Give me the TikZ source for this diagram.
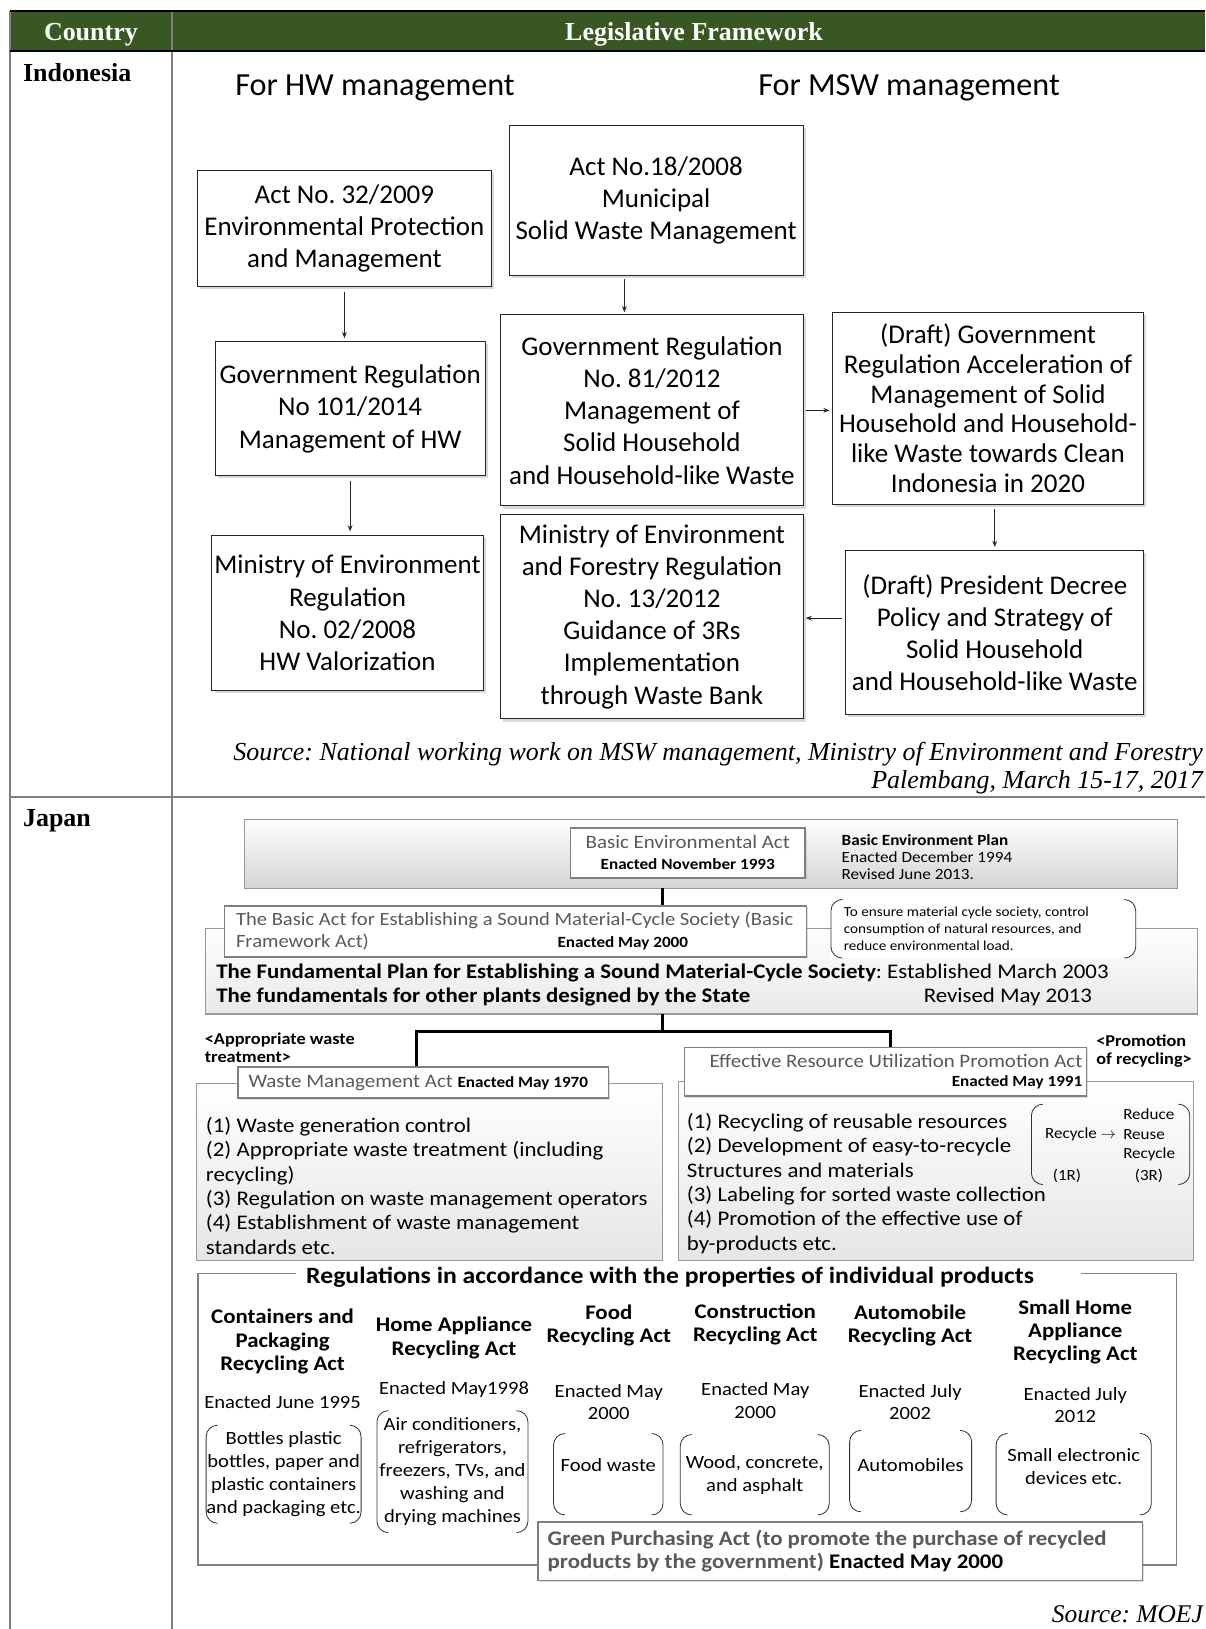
\documentclass[tikz,border=0pt]{standalone}
\usepackage{fontspec}
\setmainfont{Liberation Serif}
\newfontfamily\cf{Carlito}
\newfontfamily\cfw[FakeStretch=1.1]{Carlito}
\usetikzlibrary{arrows.meta,shadows}
\definecolor{hdr}{RGB}{56,87,35}
\definecolor{tgray}{RGB}{89,89,89}
\definecolor{lgray}{RGB}{128,128,128}
\newcommand{\fsz}[2]{\fontsize{#1}{#2}\selectfont}
\frenchspacing
% round brackets drawn on both sides of a named node
\newcommand{\brk}[1]{%
  \draw[paren] ([xshift=11pt]#1.north west) -- (#1.north west) -- (#1.south west) -- ([xshift=11pt]#1.south west);
  \draw[paren] ([xshift=-11pt]#1.north east) -- (#1.north east) -- (#1.south east) -- ([xshift=-11pt]#1.south east);}
\begin{document}
\begin{tikzpicture}[x=1pt,y=-1pt,
  ibox/.style={draw=black!85, line width=0.9pt, fill=white, align=center, inner sep=0pt,
    font=\cf\fsz{26}{31},
    drop shadow={shadow xshift=2.5pt,shadow yshift=-2.5pt,opacity=0.3}},
  arr/.style={-{Stealth[length=6pt,width=4.5pt]}, line width=0.8pt, black!85},
  jbox/.style={draw=lgray, line width=1.3pt, fill=white, inner sep=0pt,
    drop shadow={shadow xshift=1.5pt,shadow yshift=-1.5pt,opacity=0.25}},
  jband/.style={draw=lgray!80, line width=1pt, top color=white, bottom color=black!17, inner sep=0pt},
  cbox/.style={draw=lgray!80, line width=1pt, top color=white, bottom color=black!10, inner sep=0pt},
  trunk/.style={line width=2.4pt, black},
  paren/.style={draw=black!80, line width=0.8pt, rounded corners=11pt},
  jline/.style={draw=lgray, line width=1.4pt},
  txt/.style={font=\cfw\fsz{20}{23.4}, inner sep=0pt},
  small/.style={font=\cfw\fsz{15}{16.5}, inner sep=0pt},
  colh/.style={font=\cfw\bfseries\fsz{20}{22.5}, align=center, inner sep=0pt},
  prod/.style={font=\cfw\fsz{18}{22}, align=center, inner sep=0pt},
  hcell/.style={font=\bfseries\fsz{25}{28}, inner sep=0pt}
]
\useasboundingbox (0,0) rectangle (1160,1568);

% ---- table frame ----
\fill[hdr] (10,11) rectangle (1160,49);
\draw[lgray, line width=1.8pt] (10,11) -- (10,1568);
\draw[lgray, line width=1.8pt] (165.5,11) -- (165.5,1568);
\draw[lgray, line width=1.8pt] (10,767) -- (1160,767);
\draw[line width=2pt] (10,11) -- (1160,11);
\draw[line width=2pt] (10,49) -- (1160,49);

\node[hcell, text=white] (hc) at (87.5,33.5) {Country};
\node[hcell, text=white] (hl) at (668,33.5) {Legislative Framework};
\node[hcell, anchor=west] (ci) at (22,70) {Indonesia};
\node[hcell, anchor=west] (cj) at (22,790) {Japan};

% ---- Indonesia ----
\node[font=\cf\fsz{31}{36}] (hw) at (361,85) {For HW management};
\node[font=\cf\fsz{31}{36}] (msw) at (875,85) {For MSW management};

\node[ibox, minimum width=283, minimum height=112] (A) at (331.5,220)
  {Act No. 32/2009\\Environmental Protection\\and Management};
\node[ibox, minimum width=283, minimum height=144] (B) at (631.5,193)
  {Act No.18/2008\\Municipal\\Solid Waste Management};
\node[ibox, minimum width=260, minimum height=129] (C) at (337,393.5)
  {Government Regulation\\No 101/2014\\Management of HW};
\node[ibox, minimum width=291, minimum height=184] (D) at (627.5,395)
  {Government Regulation\\No. 81/2012\\Management of\\Solid Household\\and Household-like Waste};
\node[ibox, minimum width=300, minimum height=185, font=\cf\fsz{26}{28.6}] (E) at (951,393)
  {(Draft) Government\\Regulation Acceleration of\\Management of Solid\\Household and Household-\\like Waste towards Clean\\Indonesia in 2020};
\node[ibox, minimum width=261, minimum height=150] (F) at (334.5,590)
  {Ministry of Environment\\Regulation\\No. 02/2008\\HW Valorization};
\node[ibox, minimum width=291, minimum height=197] (G) at (627.5,593.5)
  {Ministry of Environment\\and Forestry Regulation\\No. 13/2012\\Guidance of 3Rs\\Implementation\\through Waste Bank};
\node[ibox, minimum width=287, minimum height=158] (H) at (957.5,609)
  {(Draft) President Decree\\Policy and Strategy of\\Solid Household\\and Household-like Waste};

\draw[arr, shorten <=5pt, shorten >=3pt] (A.south) -- (A.south |- C.north);
\draw[arr, shorten <=5pt, shorten >=3pt] (C.south) -- (C.south |- F.north);
\draw[arr, shorten <=3pt, shorten >=2pt] ([xshift=-30.5pt]B.south) -- ([xshift=-30.5pt]B.south |- D.north);
\draw[arr, shorten <=2pt, shorten >=2pt] (D.east) -- (D.east -| E.west);
\draw[arr, shorten <=4pt, shorten >=3pt] (H.north |- E.south) -- (H.north);
\draw[arr, shorten <=3pt, shorten >=2pt] ([yshift=14pt]H.west) -- ([yshift=14pt]H.west -| G.east);

\node[font=\itshape\fsz{25}{28}, anchor=east, inner sep=0pt] (src1) at (1158,726)
  {Source: National working work on MSW management, Ministry of Environment and Forestry};
\node[font=\itshape\fsz{25}{28}, anchor=east, inner sep=0pt] (src2) at (1158,753)
  {Palembang, March 15-17, 2017};

% ---- Japan: basic laws ----
\node[jband, minimum width=898, minimum height=66] (benv) at (684,822) {};
\node[jbox, minimum width=226, minimum height=48] (bea) at (662,821) {};
\node[font=\cfw\fsz{18.3}{21}, text=tgray, inner sep=0pt] (bea1) at (662,810) {Basic Environmental Act};
\node[font=\cfw\bfseries\fsz{15}{16}, inner sep=0pt] (bea2) at (662,832) {Enacted November 1993};
\node[small, anchor=west, align=left] (bep) at (810,825)
  {\textbf{Basic Environment Plan}\\Enacted December 1994\\Revised June 2013.};

\coordinate (j0) at (637.5,855);
\coordinate (j1) at (637.5,976);
\coordinate (j2) at (637.5,993);
\coordinate (jl) at (401,993);
\coordinate (jr) at (857,993);

\node[jband, minimum width=955, minimum height=82, bottom color=black!9] (plan) at (675.5,935) {};
\node[jbox, minimum width=560, minimum height=49] (bsa) at (496,896.5) {};
\draw[trunk] (j0) -- (j0 |- bsa.north);
\node[font=\cfw\fsz{18}{21}, text=tgray, anchor=west, inner sep=0pt] (bsa1) at (227,886)
  {The Basic Act for Establishing a Sound Material-Cycle Society (Basic};
\node[font=\cfw\fsz{18}{21}, text=tgray, anchor=west, inner sep=0pt] (bsa2) at (227,907) {Framework Act)};
\node[font=\cfw\bfseries\fsz{15}{16}, inner sep=0pt] (bsa3) at (599.5,908) {Enacted May 2000};

\node[fill=white, minimum width=293, minimum height=56, inner sep=0pt] (note) at (946.5,894) {};
\brk{note}
\node[anchor=west, align=left, inner sep=0pt, font=\cfw\fsz{13.3}{16.5}] (notet) at (812,894)
  {To ensure material cycle society, control\\consumption of natural resources, and\\reduce environmental load.};

\node[txt, anchor=west] (pl1) at (208,937)
  {\textbf{The Fundamental Plan for Establishing a Sound Material-Cycle Society}: Established March 2003};
\node[txt, anchor=west] (pl2) at (208,960)
  {\textbf{The fundamentals for other plants designed by the State}};
\node[txt, anchor=west] (pl3) at (889,960) {Revised May 2013};

% ---- Japan: two main acts ----
\node[cbox, minimum width=449, minimum height=170] (wmac) at (413.5,1128) {};
\node[cbox, minimum width=496, minimum height=172] (erc) at (901,1127) {};
\node[jbox, minimum width=357, minimum height=30] (wma) at (407.5,1042) {};
\node[jbox, minimum width=387, minimum height=47] (eru) at (852.5,1031.5) {};

\draw[trunk] (j1) -- (j2);
\draw[trunk] (jl |- wma.north) -- (jl) -- (jr) -- (jr |- eru.north);

\node[font=\cfw\bfseries\fsz{16}{17}, inner sep=0pt, anchor=west, align=left] (lapp) at (197,1008.5)
  {<Appropriate waste\\treatment>};
\node[font=\cfw\bfseries\fsz{16}{17}, inner sep=0pt, anchor=west, align=left] (lpro) at (1055,1012)
  {<Promotion\\of recycling>};

\node[anchor=west, inner sep=0pt, font=\cfw\fsz{18.3}{21}] (wmat) at (239,1042)
  {\textcolor{tgray}{Waste Management Act} {\bfseries\fsz{15}{16}Enacted May 1970}};
\node[txt, anchor=west, align=left] (wmax) at (198,1141.5)
  {(1) Waste generation control\\(2) Appropriate waste treatment (including\\recycling)\\(3) Regulation on waste management operators\\(4) Establishment of waste management\\standards etc.};

\node[anchor=east, inner sep=0pt, font=\cfw\fsz{18.3}{21}, text=tgray] (eru1) at (1042,1021)
  {Effective Resource Utilization Promotion Act};
\node[anchor=east, inner sep=0pt, font=\cfw\bfseries\fsz{15}{16}] (eru2) at (1042,1042) {Enacted May 1991};
\node[txt, anchor=west, align=left] (erx) at (661,1139)
  {(1) Recycling of reusable resources\\(2) Development of easy-to-recycle\\Structures and materials\\(3) Labeling for sorted waste collection\\(4) Promotion of the effective use of\\by-products etc.};

\node[minimum width=152, minimum height=77, inner sep=0pt] (rr) at (1069,1101.5) {};
\brk{rr}
\node[small, font=\cfw\fsz{14.9}{17}] (rr1) at (1040,1092) {Recycle $\rightarrow$};
\node[small, font=\cfw\fsz{14.9}{17}, anchor=west] (rr2) at (1081,1072) {Reduce};
\node[small, font=\cfw\fsz{14.9}{17}, anchor=west] (rr3) at (1081,1092) {Reuse};
\node[small, font=\cfw\fsz{14.9}{17}, anchor=west] (rr4) at (1081,1111) {Recycle};
\node[small, font=\cfw\fsz{14.9}{17}] (rr5) at (1027,1132) {(1R)};
\node[small, font=\cfw\fsz{14.9}{17}] (rr6) at (1106,1132) {(3R)};

% ---- Japan: product-specific regulations ----
\node[minimum width=941, minimum height=280, inner sep=0pt] (reg) at (661.5,1366) {};
\node[font=\cfw\bfseries\fsz{22.5}{24}, inner sep=0pt] (regt) at (645,1229)
  {Regulations in accordance with the properties of individual products};
\draw[jline] ([xshift=-10pt]regt.west |- reg.north) -- (reg.north west) -- (reg.south west)
  -- (reg.south east) -- (reg.north east) -- ([xshift=45pt]regt.east |- reg.north);

\node[colh] (h1) at (272,1291.5) {Containers and\\Packaging\\Recycling Act};
\node[colh] (h2) at (437,1288) {Home Appliance\\Recycling Act};
\node[colh] (h3) at (586,1276) {Food\\Recycling Act};
\node[colh] (h4) at (727,1275) {Construction\\Recycling Act};
\node[colh] (h5) at (876,1276) {Automobile\\Recycling Act};
\node[colh] (h6) at (1035,1282) {Small Home\\Appliance\\Recycling Act};

\node[prod] (e1) at (272,1350) {Enacted June 1995};
\node[prod] (e2) at (437,1337) {Enacted May1998};
\node[prod] (e3) at (586,1349.5) {Enacted May\\2000};
\node[prod] (e4) at (727,1348.5) {Enacted May\\2000};
\node[prod] (e5) at (876,1349.5) {Enacted July\\2002};
\node[prod] (e6) at (1035,1352.5) {Enacted July\\2012};

\node[prod, minimum width=148, minimum height=94] (p1) at (273,1419)
  {Bottles plastic\\bottles, paper and\\plastic containers\\and packaging etc.};
\node[prod, minimum width=145, minimum height=117] (p2) at (435.5,1416.5)
  {Air conditioners,\\refrigerators,\\freezers, TVs, and\\washing and\\drying machines};
\node[prod, minimum width=105, minimum height=78] (p3) at (585.5,1419) {};
\node[prod] (p3t) at (585.5,1410) {Food waste};
\node[prod, minimum width=143, minimum height=77] (p4) at (726.5,1419.5) {Wood, concrete,\\and asphalt};
\node[prod, minimum width=117, minimum height=78] (p5) at (876.5,1416) {};
\node[prod] (p5t) at (876.5,1410) {Automobiles};
\node[prod, minimum width=149, minimum height=78] (p6) at (1033.5,1419) {};
\node[prod] (p6t) at (1033.5,1412) {Small electronic\\devices etc.};
\brk{p1}\brk{p2}\brk{p3}\brk{p4}\brk{p5}\brk{p6}

\node[jbox, minimum width=582, minimum height=56] (gp) at (809,1493) {};
\node[anchor=west, inner sep=0pt, align=left, font=\cfw\bfseries\fsz{20}{22}, text=tgray] (gpt) at (527,1493)
  {Green Purchasing Act (to promote the purchase of recycled\\products by the government) \textcolor{black}{Enacted May 2000}};

\node[font=\itshape\fsz{24.5}{28}, anchor=base east, inner sep=0pt] (srcj) at (1158,1562) {Source: MOEJ};
\end{tikzpicture}
\end{document}
